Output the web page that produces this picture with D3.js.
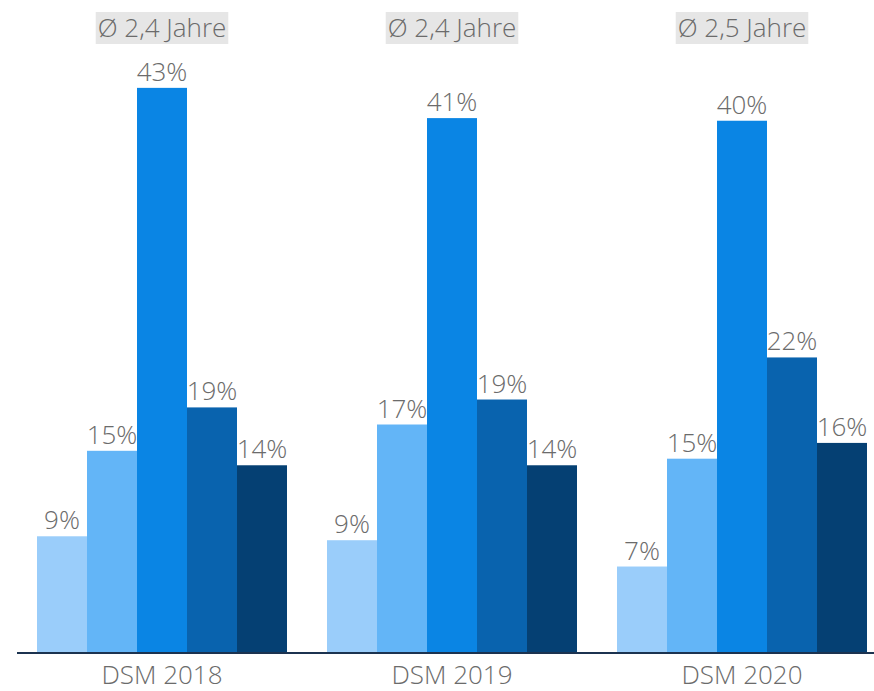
<!DOCTYPE html>
<html>
<head>
<meta charset="utf-8">
<script src="https://cdn.jsdelivr.net/npm/d3@7"></script>
<style>
  body { margin: 0; background: #fff; }
  svg text { font-family: "Open Sans", sans-serif; font-weight: 300; fill: #6b6b6b; }
</style>
</head>
<body>
<svg id="chart" width="874" height="691"></svg>
<script>
// categories and values
var groups = ["DSM 2018", "DSM 2019", "DSM 2020"];
var averages = ["Ø 2,4 Jahre", "Ø 2,4 Jahre", "Ø 2,5 Jahre"];
var series = ["s1", "s2", "s3", "s4", "s5"];
var colors = ["#9acdfa", "#63b5f7", "#0a85e4", "#0963ae", "#054073"];
var values2018 = [8.8, 15.3, 42.9, 18.6, 14.2];
var values2019 = [8.5, 17.3, 40.6, 19.2, 14.2];
var values2020 = [6.5, 14.7, 40.4, 22.4, 15.9];
var labels2018 = ["9%", "15%", "43%", "19%", "14%"];
var labels2019 = ["9%", "17%", "41%", "19%", "14%"];
var labels2020 = ["7%", "15%", "40%", "22%", "16%"];

var values = [values2018, values2019, values2020];
var labels = [labels2018, labels2019, labels2020];

var svg = d3.select("#chart");
var baseY = 652;

var x0 = d3.scaleBand().domain(groups).range([37, 867]).paddingInner(40 / 290).paddingOuter(0);
var x1 = d3.scaleBand().domain(series).range([0, x0.bandwidth()]).padding(0);
var y = d3.scaleLinear().domain([0, 50]).range([baseY, baseY - 13.15 * 50]);
var color = d3.scaleOrdinal().domain(series).range(colors);

var rows = [];
groups.forEach(function (g, gi) {
    series.forEach(function (s, si) {
        rows.push({ group: g, key: s, value: values[gi][si], label: labels[gi][si] });
    });
});

var g = svg.append("g").selectAll("g")
    .data(groups)
    .enter().append("g")
    .attr("transform", function (d) { return "translate(" + x0(d) + ",0)"; });

g.selectAll("rect")
    .data(function (d) { return rows.filter(function (r) { return r.group == d; }); })
    .enter().append("rect")
    .attr("x", function (d) { return x1(d.key); })
    .attr("width", x1.bandwidth())
    .attr("y", function (d) { return y(d.value); })
    .attr("height", function (d) { return baseY - y(d.value); })
    .attr("fill", function (d) { return color(d.key); });

g.selectAll("text.val")
    .data(function (d) { return rows.filter(function (r) { return r.group == d; }); })
    .enter().append("text")
    .attr("class", "val")
    .attr("x", function (d) { return x1(d.key) + x1.bandwidth() / 2; })
    .attr("y", function (d) { return y(d.value) - 7; })
    .attr("text-anchor", "middle")
    .attr("font-size", "26px")
    .text(function (d) { return d.label; });

// average badges above each group
var badge = svg.append("g").selectAll("g")
    .data(groups)
    .enter().append("g");

var badgeText = badge.append("text")
    .attr("x", function (d) { return x0(d) + x0.bandwidth() / 2; })
    .attr("y", 37)
    .attr("text-anchor", "middle")
    .attr("font-size", "26px")
    .text(function (d, i) { return averages[i]; });

badge.insert("rect", "text")
    .each(function (d, i) {
        var bb = badgeText.nodes()[i].getBBox();
        d3.select(this)
            .attr("x", bb.x - 2)
            .attr("y", 12)
            .attr("width", bb.width + 4)
            .attr("height", 32)
            .attr("fill", "#e6e6e6");
    });

// baseline + group labels
svg.append("line")
    .attr("x1", 17).attr("x2", 874)
    .attr("y1", baseY + 1).attr("y2", baseY + 1)
    .attr("stroke", "#1c3350")
    .attr("stroke-width", 2);

svg.append("g").selectAll("text")
    .data(groups)
    .enter().append("text")
    .attr("x", function (d) { return x0(d) + x0.bandwidth() / 2; })
    .attr("y", 684)
    .attr("text-anchor", "middle")
    .attr("font-size", "26px")
    .text(function (d) { return d; });
</script>
</body>
</html>
